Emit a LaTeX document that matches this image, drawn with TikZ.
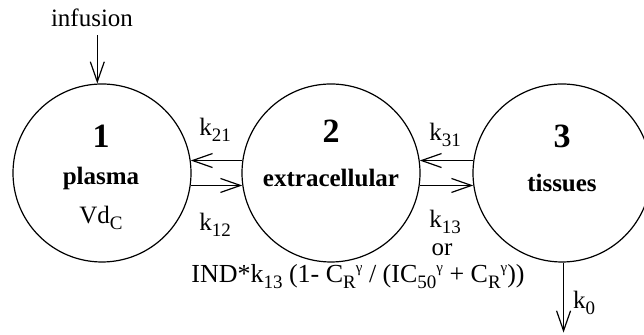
\documentclass[tikz,border=0pt]{standalone}
\usepackage{fontspec}
\setmainfont{Liberation Serif}
\usetikzlibrary{arrows.meta,positioning}
\newcommand{\sbs}[1]{\raisebox{-0.5ex}{\fontsize{9.5}{10}\selectfont #1}}
\newcommand{\sps}[1]{\raisebox{0.9ex}{\fontsize{7.5}{8}\selectfont #1}}

\begin{document}
\begin{tikzpicture}[
  x=0.5pt, y=-0.5pt, >={Straight Barb[length=10pt,width=7pt]},
  comp/.style={draw, circle, line width=0.6pt, minimum size=89pt, inner sep=0pt},
  lbl/.style={font=\fontsize{12.5}{14}\selectfont, inner sep=1pt},
  num/.style={font=\fontsize{17}{19}\selectfont\bfseries, inner sep=1pt},
  cname/.style={font=\fontsize{12.5}{14}\selectfont\bfseries, inner sep=1pt},
  flow/.style={->, line width=0.6pt}]
\useasboundingbox (0,0) rectangle (644,335);
% compartments
\node[comp] (c1) at (102,173) {};
\node[comp] (c2) at (331,173) {};
\node[comp] (c3) at (562,173) {};
\node[num] (n1) at (101,136) {1};
\node[cname] (plasma) at (101,178) {plasma};
\node[lbl] (vd) at (101,218) {Vd\sbs{C}};
\node[num] (n2) at (331,131) {2};
\node[cname] (extra) at (331,178) {extracellular};
\node[num] (n3) at (562,136) {3};
\node[cname] (tiss) at (562,183) {tissues};
% input and output
\node[lbl] (inf) at (92,18) {infusion};
\draw[flow, shorten <=3pt] (inf.south -| c1.93) -- (c1.93);
\coordinate[below=35pt of c3.-89] (drain);
\draw[flow] (c3.-89) -- (drain);
\node[lbl] (k0) at (584,303) {k\sbs{0}};
% exchanges
\draw[flow] (c2.172) -- (c1.8);
\draw[flow] (c1.-8) -- (c2.188);
\draw[flow] (c3.172) -- (c2.8);
\draw[flow] (c2.-8) -- (c3.188);
\node[lbl] (k21) at (215,130) {k\sbs{21}};
\node[lbl] (k12) at (215,225) {k\sbs{12}};
\node[lbl] (k31) at (445,135) {k\sbs{31}};
\node[lbl] (k13) at (445,222) {k\sbs{13}};
\node[lbl] (or) at (442,250) {or};
\node[lbl, font=\fontsize{13}{15}\selectfont] (ind) at (358,277) {IND*k\sbs{13} (1- C\sbs{R}\sps{γ} / (IC\sbs{50}\sps{γ} + C\sbs{R}\sps{γ}))};
\end{tikzpicture}
\end{document}
